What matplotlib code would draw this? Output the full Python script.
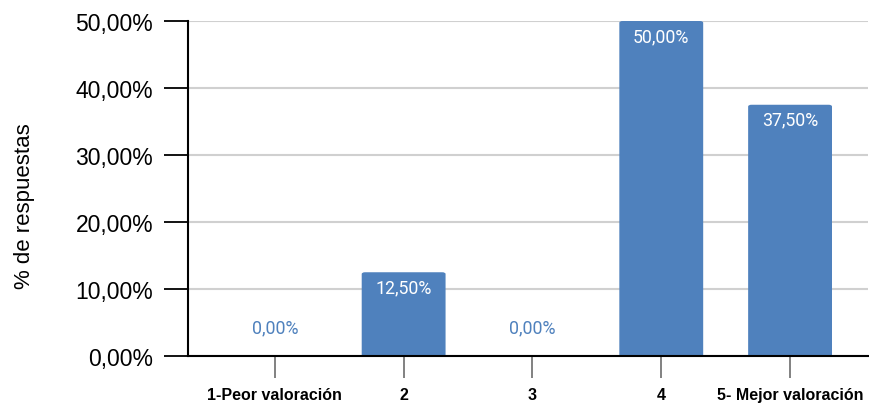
import matplotlib
matplotlib.use("Agg")
import matplotlib.pyplot as plt
from matplotlib.patches import FancyBboxPatch
from matplotlib.ticker import FuncFormatter

categories = ["1-Peor valoración", "2", "3", "4", "5- Mejor valoración"]
values = [0.0, 12.5, 0.0, 50.0, 37.5]
yticks = [0, 10, 20, 30, 40, 50]

bar_color = "#4f81bd"

def pct(v):
    return f"{v:.2f}%".replace(".", ",")

fig = plt.figure(figsize=(8.7, 4.06), dpi=100)
ax = fig.add_axes([0.2161, 0.1207, 0.7816, 0.8251])

x = list(range(len(categories)))
bars = ax.bar(x, values, width=0.651, color=bar_color, zorder=3)

# swap the plain rectangles for ones with slightly rounded corners
rx, ry = 0.026, 0.26
for b in bars:
    b.set_visible(False)
    p = FancyBboxPatch((b.get_x(), -ry), b.get_width(), b.get_height() + ry,
                       boxstyle=f"round,pad=0,rounding_size={rx}",
                       mutation_aspect=ry / rx, facecolor=bar_color,
                       edgecolor="none", zorder=3, clip_on=True)
    if b.get_height() > 0:
        ax.add_patch(p)

for xi, v in zip(x, values):
    if v > 0:
        ax.annotate(pct(v), (xi, v), xytext=(0, -15), textcoords="offset pixels",
                    ha="center", va="center", color="white", fontsize=12.8,
                    family="Roboto", zorder=4)
    else:
        ax.annotate(pct(v), (xi, 0), xytext=(0, 29), textcoords="offset pixels",
                    ha="center", va="center", color=bar_color, fontsize=12.8,
                    family="Roboto", zorder=4)

ax.set_xlim(-0.674, 4.605)
ax.set_ylim(0, 50)
ax.set_yticks(yticks)
ax.yaxis.set_major_formatter(FuncFormatter(lambda v, _: pct(v)))
ax.set_xticks(x)
ax.set_xticklabels(categories, fontsize=11.5, fontweight="bold", family="Liberation Sans")
for lab in ax.get_yticklabels():
    lab.set_family("Liberation Sans")
    lab.set_fontsize(16.5)

ax.tick_params(axis="y", length=17, width=1.3, color="black", pad=8)
ax.tick_params(axis="x", length=16, width=1.3, color="#777777", pad=6)

ax.grid(axis="y", color="#d0d0d0", linewidth=1.5, zorder=0)
ax.set_axisbelow(True)
for s in ["top", "right"]:
    ax.spines[s].set_visible(False)
ax.spines["left"].set_linewidth(1.5)
ax.spines["bottom"].set_linewidth(1.5)
ax.spines["bottom"].set_zorder(5)

ax.set_ylabel("% de respuestas", fontsize=16, family="Liberation Sans")
ax.yaxis.set_label_coords(-0.225, 0.449)

fig.savefig("out.png", dpi=100)
